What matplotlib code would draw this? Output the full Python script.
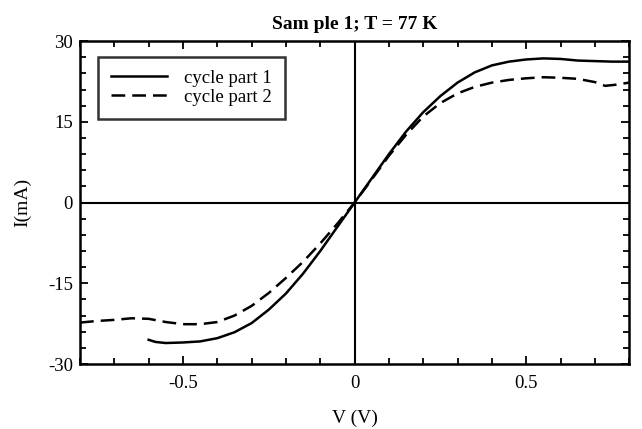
import matplotlib.pyplot as plt
import numpy as np
from matplotlib.ticker import MultipleLocator

# -----------------------------
# Data
# -----------------------------
v_part1 = [-0.60, -0.58, -0.55, -0.50, -0.45, -0.40, -0.35, -0.30, -0.25, -0.20, -0.15,
           -0.10, -0.05, 0.0, 0.05, 0.10, 0.15, 0.20, 0.25, 0.30, 0.35, 0.40, 0.45,
           0.50, 0.55, 0.60, 0.65, 0.70, 0.75, 0.80]
i_part1 = [-25.5, -25.9, -26.1, -26.0, -25.8, -25.2, -24.1, -22.4, -19.9, -16.9, -13.2,
           -9.0, -4.5, 0.0, 4.5, 9.0, 13.2, 16.8, 19.8, 22.3, 24.2, 25.5, 26.2,
           26.6, 26.8, 26.7, 26.4, 26.3, 26.2, 26.2]

v_part2 = [-0.80, -0.75, -0.70, -0.65, -0.60, -0.55, -0.50, -0.45, -0.40, -0.35, -0.30,
           -0.25, -0.20, -0.15, -0.10, -0.05, 0.0, 0.05, 0.10, 0.15, 0.20, 0.25, 0.30,
           0.35, 0.40, 0.45, 0.50, 0.55, 0.60, 0.65, 0.70, 0.73, 0.76, 0.80]
i_part2 = [-22.3, -22.0, -21.8, -21.5, -21.6, -22.2, -22.6, -22.6, -22.2, -21.0, -19.2,
           -16.8, -14.0, -11.0, -7.6, -3.9, 0.0, 4.3, 8.7, 12.6, 16.0, 18.5, 20.3,
           21.5, 22.3, 22.8, 23.1, 23.3, 23.2, 23.0, 22.4, 21.7, 21.9, 22.3]

# -----------------------------
# Plot
# -----------------------------
plt.rcParams["font.family"] = "Liberation Serif"

fig = plt.figure(figsize=(6.42, 4.29), dpi=100)
ax = fig.add_axes([0.1246, 0.1515, 0.8554, 0.7525])

ax.axhline(0, color="black", lw=1.5)
ax.axvline(0, color="black", lw=1.5)

ax.plot(v_part1, i_part1, color="black", lw=1.8, label="cycle part 1")
ax.plot(v_part2, i_part2, color="black", lw=1.8, ls=(0, (5.5, 2.8)), label="cycle part 2")

ax.set_xlim(-0.8, 0.8)
ax.set_ylim(-30, 30)

ax.xaxis.set_minor_locator(MultipleLocator(0.1))
ax.yaxis.set_minor_locator(MultipleLocator(3))
ax.set_xticks([-0.5, 0, 0.5])
ax.set_xticklabels(["-0.5", "0", "0.5"])
ax.set_yticks([-30, -15, 0, 15, 30])
ax.set_yticklabels(["-30", "-15", "0", "15", "30"])

ax.tick_params(which="both", direction="in", top=True, right=True,
               labelsize=13.5, width=1.3)
ax.tick_params(axis="x", pad=8)
ax.tick_params(axis="y", pad=5)
ax.tick_params(which="major", length=6)
ax.tick_params(which="minor", length=4)

for s in ax.spines.values():
    s.set_linewidth(1.8)

ax.set_xlabel("V (V)", fontsize=14, labelpad=13)
ax.set_ylabel("I(mA)", fontsize=14, labelpad=12)
ax.set_title("Sam ple 1; T = 77 K", fontsize=14, fontweight="bold", pad=9)

leg = ax.legend(loc="upper left", bbox_to_anchor=(0.032, 0.952), fontsize=13.5,
                frameon=True, fancybox=False, edgecolor="black",
                handlelength=3.0, handletextpad=0.9, borderpad=0.7,
                labelspacing=0.1, borderaxespad=0)
leg.get_frame().set_linewidth(1.8)

fig.savefig("out.png", dpi=100)
